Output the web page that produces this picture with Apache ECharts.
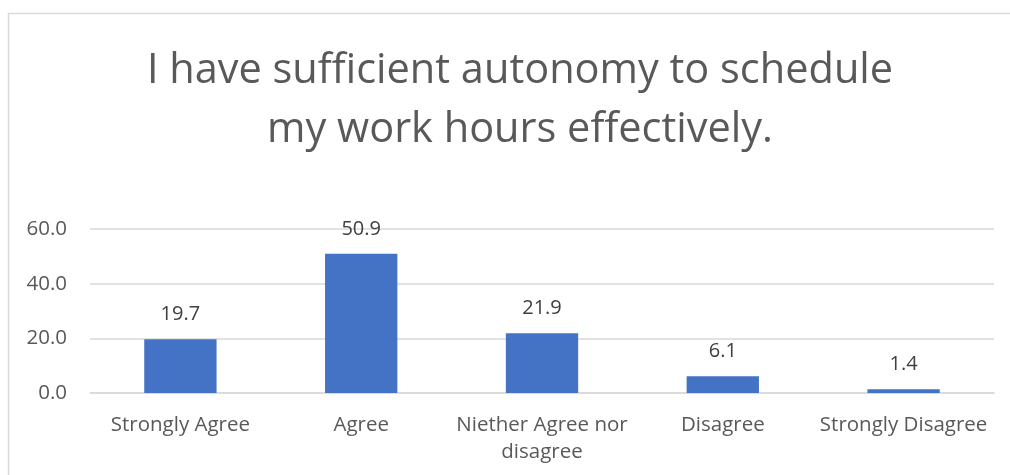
<!DOCTYPE html>
<html>
<head>
<meta charset="utf-8">
<script src="https://cdn.jsdelivr.net/npm/echarts@6/dist/echarts.min.js"></script>
<style>
html,body{margin:0;padding:0;background:#fff;}
#chart{width:1010px;height:475px;}
</style>
</head>
<body>
<div id="chart"></div>
<script>
const titleText = 'I have sufficient autonomy to schedule\nmy work hours effectively.';
const categories = ['Strongly Agree', 'Agree', 'Niether Agree nor\ndisagree', 'Disagree', 'Strongly Disagree'];
const values = [19.7, 50.9, 21.9, 6.1, 1.4];
const yTicks = { min: 0, max: 60, interval: 20 };

const FONT = 'Open Sans';
const chart = echarts.init(document.getElementById('chart'));
chart.setOption({
  animation: false,
  backgroundColor: '#fff',
  graphic: [{
    type: 'rect',
    shape: { x: 8.5, y: 13.5, width: 1100, height: 600 },
    style: { fill: 'none', stroke: '#d9d9d9', lineWidth: 1.5 },
    silent: true
  }],
  title: {
    text: titleText,
    left: 515,
    textAlign: 'center',
    top: 37,
    textStyle: { fontFamily: FONT, fontSize: 41.5, fontWeight: 'normal', color: '#595959', lineHeight: 59 }
  },
  grid: { left: 90, right: 16, top: 229, bottom: 82, containLabel: false },
  xAxis: {
    type: 'category',
    data: categories,
    axisLine: { show: true, lineStyle: { color: '#d9d9d9', width: 1.5 } },
    axisTick: { show: false },
    axisLabel: { fontFamily: FONT, fontSize: 20.5, color: '#595959', lineHeight: 27, margin: 19, interval: 0 }
  },
  yAxis: {
    type: 'value',
    min: yTicks.min, max: yTicks.max, interval: yTicks.interval,
    axisLine: { show: false },
    axisTick: { show: false },
    splitLine: { lineStyle: { color: '#d9d9d9', width: 1.5 } },
    axisLabel: { fontFamily: FONT, fontSize: 20.5, color: '#595959', margin: 23, formatter: v => v.toFixed(1) }
  },
  series: [{
    type: 'bar',
    data: values,
    barWidth: '40%',
    itemStyle: { color: '#4472C4' },
    label: { show: true, position: 'top', distance: 15, fontFamily: FONT, fontSize: 20, color: '#404040', formatter: p => p.value.toFixed(1) }
  }]
});
</script>
</body>
</html>
